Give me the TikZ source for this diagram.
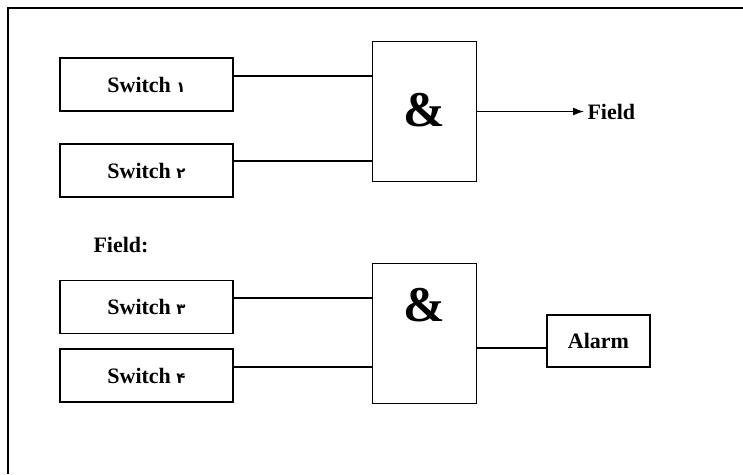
\documentclass[tikz,border=0pt]{standalone}
\usepackage{fontspec}
\setmainfont{Liberation Serif}
\newfontfamily\digitfont[Script=Arabic, Language=Parsi]{DejaVu Sans}
\usetikzlibrary{arrows.meta}
\tikzset{
  swbox/.style={draw, line width=1.3pt, minimum width=173pt, minimum height=53pt,
    font=\fontsize{22}{25}\selectfont\bfseries},
  gatebox/.style={draw, line width=1.4pt, minimum width=104pt, minimum height=140pt},
  ampsign/.style={font=\fontsize{50}{56}\selectfont\bfseries, inner sep=0pt},
  wire/.style={line width=1.2pt},
  lbl/.style={font=\fontsize{22}{25}\selectfont\bfseries}
}
\newcommand{\pdig}[1]{{\digitfont\fontsize{15}{17}\selectfont #1}}

\begin{document}
\begin{tikzpicture}[x=1pt, y=-1pt]
		%%%%% START %%%%%
		\useasboundingbox (0, 0) rectangle (743, 474);
		\draw[line width=1.8pt] (8, 474) -- (8, 8) -- (743, 8);
		
		% first gate
		\node[swbox] (sw1) at (146.5, 84.5) {Switch \pdig{۱}};
		\node[swbox] (sw2) at (146.5, 170.5) {Switch \pdig{۲}};
		\node[gatebox] (g1) at (424.5, 111.5) {};
		\node[ampsign] (amp1) at (424, 110) {\&};
		\node[lbl, anchor=west] (fld) at (584, 111.5) {Field};
		
		\coordinate (w1) at ([yshift=8.5pt]sw1.east);
		\coordinate (w2) at ([yshift=9.5pt]sw2.east);
		\draw[wire] (w1) -- (w1 -| g1.west);
		\draw[wire] (w2) -- (w2 -| g1.west);
		\draw[wire, -{Latex[length=11pt, width=8pt]}] (g1.east) -- (g1.east -| fld.west);
		
		% second gate
		\node[lbl] (cap) at (121, 245) {Field:};
		\node[swbox] (sw3) at (146.5, 307) {Switch \pdig{۳}};
		\node[swbox] (sw4) at (146.5, 375.5) {Switch \pdig{۴}};
		\node[gatebox] (g2) at (424.5, 333.5) {};
		\node[ampsign] (amp2) at (424, 305) {\&};
		\node[swbox, minimum width=103pt, minimum height=52pt] (alarm) at (598.5, 341) {Alarm};
		
		\coordinate (w3) at ([yshift=9pt]sw3.east);
		\coordinate (w4) at ([yshift=8.5pt]sw4.east);
		\coordinate (w5) at ([yshift=-14.5pt]g2.east);
		\draw[wire] (w3) -- (w3 -| g2.west);
		\draw[wire] (w4) -- (w4 -| g2.west);
		\draw[wire] (w5) -- (w5 -| alarm.west);
		%%%%% END %%%%%
\end{tikzpicture}
\end{document}
